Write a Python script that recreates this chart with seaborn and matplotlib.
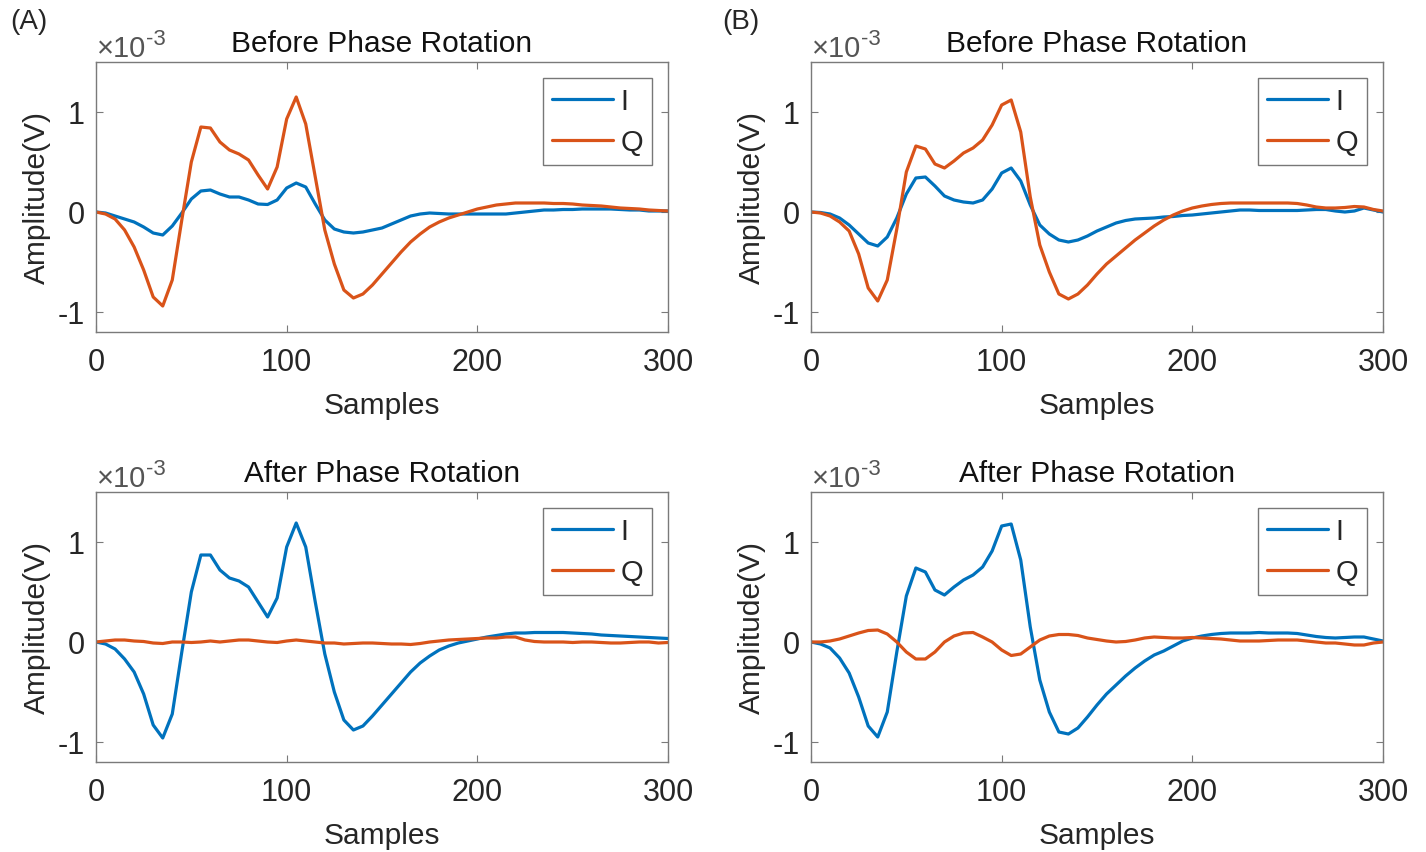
import numpy as np
import pandas as pd
import seaborn as sns
import matplotlib.pyplot as plt
from matplotlib.ticker import FuncFormatter

# sample index, every 5 samples
samples = np.arange(0, 301, 5)

# values in units of 1e-3 V
# (A) before phase rotation
a_before_I = [0, -0.01, -0.04, -0.07, -0.10, -0.15, -0.21, -0.23, -0.14, -0.01,
              0.13, 0.21, 0.22, 0.18, 0.15, 0.15, 0.12, 0.08, 0.075, 0.12,
              0.24, 0.29, 0.25, 0.08, -0.08, -0.17, -0.20, -0.21, -0.20, -0.18,
              -0.16, -0.12, -0.08, -0.04, -0.02, -0.01, -0.015, -0.02, -0.02, -0.02,
              -0.02, -0.02, -0.02, -0.02, -0.01, 0.0, 0.01, 0.02, 0.02, 0.025,
              0.025, 0.03, 0.03, 0.03, 0.03, 0.025, 0.02, 0.02, 0.01, 0.01, 0.01]
a_before_Q = [0, -0.02, -0.07, -0.18, -0.35, -0.58, -0.85, -0.94, -0.68, -0.08,
              0.50, 0.85, 0.84, 0.70, 0.62, 0.58, 0.52, 0.37, 0.23, 0.45,
              0.93, 1.15, 0.88, 0.35, -0.18, -0.52, -0.78, -0.86, -0.82, -0.73,
              -0.62, -0.51, -0.40, -0.30, -0.22, -0.15, -0.10, -0.06, -0.03, 0.0,
              0.03, 0.05, 0.07, 0.08, 0.09, 0.09, 0.09, 0.09, 0.085, 0.085,
              0.08, 0.07, 0.065, 0.06, 0.05, 0.04, 0.035, 0.03, 0.02, 0.015, 0.01]
# (A) after phase rotation
a_after_I = [0, -0.02, -0.07, -0.17, -0.30, -0.52, -0.83, -0.96, -0.72, -0.10,
             0.50, 0.87, 0.87, 0.72, 0.64, 0.61, 0.55, 0.40, 0.25, 0.44,
             0.95, 1.19, 0.95, 0.40, -0.12, -0.50, -0.78, -0.88, -0.84, -0.74,
             -0.63, -0.52, -0.41, -0.30, -0.21, -0.14, -0.08, -0.04, -0.01, 0.01,
             0.03, 0.05, 0.065, 0.08, 0.09, 0.09, 0.095, 0.095, 0.095, 0.095,
             0.09, 0.085, 0.08, 0.07, 0.065, 0.06, 0.055, 0.05, 0.045, 0.04, 0.035]
a_after_Q = [0, 0.01, 0.02, 0.02, 0.01, 0.005, -0.01, -0.015, 0.0, 0.0,
             -0.005, 0.0, 0.01, 0.0, 0.01, 0.02, 0.02, 0.01, 0.0, -0.005,
             0.01, 0.02, 0.01, 0.0, -0.01, -0.01, -0.02, -0.015, -0.01, -0.01,
             -0.015, -0.02, -0.02, -0.025, -0.015, 0.0, 0.01, 0.02, 0.025, 0.03,
             0.035, 0.04, 0.04, 0.05, 0.05, 0.02, 0.005, 0.0, 0.0, 0.0,
             -0.005, 0.0, 0.0, -0.005, -0.01, -0.01, -0.005, 0.0, 0.0, -0.01, -0.005]
# (B) before phase rotation
b_before_I = [0, -0.005, -0.02, -0.06, -0.13, -0.22, -0.31, -0.34, -0.25, -0.06,
              0.18, 0.34, 0.35, 0.26, 0.16, 0.12, 0.10, 0.09, 0.12, 0.23,
              0.39, 0.44, 0.31, 0.07, -0.13, -0.22, -0.28, -0.30, -0.28, -0.24,
              -0.19, -0.15, -0.11, -0.085, -0.07, -0.065, -0.06, -0.05, -0.045, -0.035,
              -0.03, -0.02, -0.01, 0.0, 0.01, 0.02, 0.02, 0.015, 0.015, 0.015,
              0.015, 0.015, 0.02, 0.025, 0.025, 0.01, 0.0, 0.01, 0.04, 0.02, 0.0]
b_before_Q = [0, -0.01, -0.04, -0.10, -0.19, -0.42, -0.76, -0.89, -0.68, -0.17,
              0.40, 0.66, 0.63, 0.48, 0.44, 0.51, 0.59, 0.64, 0.72, 0.87,
              1.07, 1.12, 0.80, 0.15, -0.33, -0.60, -0.82, -0.87, -0.82, -0.73,
              -0.62, -0.52, -0.44, -0.36, -0.28, -0.21, -0.14, -0.08, -0.03, 0.01,
              0.04, 0.06, 0.075, 0.085, 0.09, 0.09, 0.09, 0.09, 0.09, 0.09,
              0.09, 0.085, 0.07, 0.05, 0.04, 0.04, 0.045, 0.055, 0.05, 0.025, 0.01]
# (B) after phase rotation
b_after_I = [0, -0.02, -0.06, -0.16, -0.31, -0.55, -0.84, -0.95, -0.70, -0.10,
             0.46, 0.74, 0.70, 0.52, 0.47, 0.55, 0.62, 0.67, 0.75, 0.91,
             1.16, 1.18, 0.82, 0.15, -0.38, -0.70, -0.90, -0.92, -0.86, -0.75,
             -0.63, -0.52, -0.43, -0.34, -0.26, -0.19, -0.13, -0.09, -0.04, 0.01,
             0.04, 0.06, 0.075, 0.085, 0.09, 0.09, 0.09, 0.095, 0.09, 0.09,
             0.09, 0.085, 0.07, 0.055, 0.045, 0.04, 0.045, 0.05, 0.05, 0.03, 0.01]
b_after_Q = [0, 0.0, 0.01, 0.03, 0.06, 0.09, 0.115, 0.12, 0.08, 0.0,
             -0.10, -0.17, -0.17, -0.10, 0.0, 0.06, 0.09, 0.095, 0.05, 0.0,
             -0.08, -0.135, -0.12, -0.05, 0.02, 0.06, 0.075, 0.075, 0.065, 0.04,
             0.025, 0.01, 0.0, 0.005, 0.02, 0.04, 0.05, 0.045, 0.04, 0.04,
             0.045, 0.04, 0.035, 0.03, 0.02, 0.01, 0.01, 0.01, 0.015, 0.02,
             0.02, 0.02, 0.01, 0.0, -0.01, -0.01, -0.02, -0.03, -0.03, -0.01, 0.0]

panels = [
    ("Before Phase Rotation", a_before_I, a_before_Q),
    ("Before Phase Rotation", b_before_I, b_before_Q),
    ("After Phase Rotation", a_after_I, a_after_Q),
    ("After Phase Rotation", b_after_I, b_after_Q),
]

sns.set_style("ticks")
plt.rcParams["font.family"] = ["Liberation Sans", "DejaVu Sans"]
plt.rcParams["axes.unicode_minus"] = False

col_I = "#0072BD"
col_Q = "#D95319"
axcol = "#7a7a7a"
txtcol = "#262626"

fig = plt.figure(figsize=(14.26, 8.53), dpi=100)
W, H = 1426, 853
# axes boxes in pixels: left, right, top, bottom
boxes = [(96, 668, 63, 333), (811, 1383, 63, 333),
         (96, 668, 493, 763), (811, 1383, 493, 763)]

for (title, vi, vq), (l, r, t, b) in zip(panels, boxes):
    ax = fig.add_axes([l / W, 1 - b / H, (r - l) / W, (b - t) / H])
    df = pd.DataFrame({"Samples": samples,
                       "I": np.array(vi) * 1e-3,
                       "Q": np.array(vq) * 1e-3})
    sns.lineplot(data=df, x="Samples", y="I", ax=ax, color=col_I, linewidth=2.3, label="I")
    sns.lineplot(data=df, x="Samples", y="Q", ax=ax, color=col_Q, linewidth=2.3, label="Q")
    ax.set_xlim(0, 300)
    ax.set_ylim(-1.2e-3, 1.5e-3)
    ax.set_xticks([0, 100, 200, 300])
    ax.set_yticks([-1e-3, 0, 1e-3])
    ax.yaxis.set_major_formatter(FuncFormatter(lambda v, p: f"{round(v * 1e3):d}"))
    ax.tick_params(direction="in", length=5, width=0.8, colors=axcol,
                   labelcolor=txtcol, labelsize=22, top=True, right=True)
    ax.tick_params(axis="x", pad=11)
    ax.tick_params(axis="y", pad=8)
    for s in ax.spines.values():
        s.set_visible(True)
        s.set_color(axcol)
        s.set_linewidth(1.0)
    ax.set_xlabel("Samples", fontsize=21.5, color=txtcol, labelpad=10)
    ax.set_ylabel("Amplitude(V)", fontsize=21.5, color=txtcol, labelpad=5)
    ax.set_title(title, fontsize=21.5, color="#111111", pad=8)
    # exponent label in the style of the original
    fig.text((l + 1) / W, 1 - 57 / H - (t - 63) / H, "\u00d710", fontsize=21,
             color="#555555", ha="left", va="baseline")
    fig.text((l + 50) / W, 1 - 45 / H - (t - 63) / H, "-3", fontsize=16,
             color="#555555", ha="left", va="baseline")
    leg = ax.legend(loc="upper right", fontsize=21, frameon=True, fancybox=False,
                    handlelength=2.1, handletextpad=0.25, borderpad=0.3,
                    labelspacing=0.45, borderaxespad=0.55)
    leg.get_frame().set_edgecolor("#555555")
    leg.get_frame().set_linewidth(1.0)

fig.text(10 / W, 1 - 22 / H, "(A)", fontsize=20, color=txtcol, va="center", ha="left")
fig.text(722 / W, 1 - 22 / H, "(B)", fontsize=20, color=txtcol, va="center", ha="left")

fig.savefig("out.png", dpi=100, facecolor="white")
